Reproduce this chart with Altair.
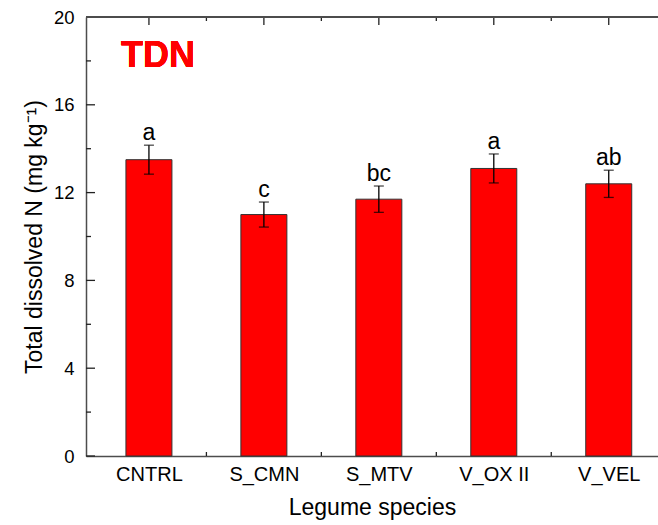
import json
import altair as alt
import pandas as pd

# Total dissolved N by legume species
species = ["CNTRL", "S_CMN", "S_MTV", "V_OX II", "V_VEL"]
tdn_mean = [13.5, 11.0, 11.7, 13.1, 12.4]
tdn_se = [0.66, 0.57, 0.60, 0.66, 0.62]
letters = ["a", "c", "bc", "a", "ab"]

y_major = [0, 4, 8, 12, 16, 20]
y_minor = [2, 6, 10, 14, 18]
x_bounds = [0.5, 1.5, 2.5, 3.5]

FONT = "Liberation Sans"
W, H = 572, 439

df = pd.DataFrame({
    "pos": list(range(len(species))),
    "species": species,
    "mean": tdn_mean,
    "se": tdn_se,
    "letter": letters,
})
df["lo"] = df["mean"] - df["se"]
df["hi"] = df["mean"] + df["se"]

label_expr = json.dumps(species) + "[datum.value]"

x_scale = alt.Scale(domain=[-0.504, 4.385], nice=False, zero=False)
y_scale = alt.Scale(domain=[0, 20], nice=False)

x_axis = alt.Axis(
    values=list(range(len(species))), labelExpr=label_expr, ticks=False,
    grid=False, domainColor="#4d4d4d", domainWidth=1.5,
    labelFont=FONT, labelFontSize=20, labelColor="black", labelPadding=8,
    title="Legume species", titleFont=FONT, titleFontSize=23,
    titleFontWeight="normal", titleColor="black", titlePadding=12,
)
y_axis = alt.Axis(
    values=y_major, ticks=False, grid=False,
    domainColor="#4d4d4d", domainWidth=1.5,
    labelFont=FONT, labelFontSize=18.5, labelColor="black", labelPadding=12,
    title="Total dissolved N (mg kg⁻¹)", titleFont=FONT, titleFontSize=23,
    titleFontWeight="normal", titleColor="black", titlePadding=7,
)

base = alt.Chart(df)

bars = base.mark_bar(size=46, color="#ff0000", stroke="#333333", strokeWidth=1).encode(
    x=alt.X("pos:Q", scale=x_scale, axis=x_axis),
    y=alt.Y("mean:Q", scale=y_scale, axis=y_axis),
)

err_line = base.mark_rule(color="black", strokeWidth=1.3).encode(
    x="pos:Q", y="lo:Q", y2="hi:Q"
)
err_hi = base.mark_tick(orient="horizontal", size=10, thickness=1.3, color="black").encode(
    x="pos:Q", y="hi:Q"
)
err_lo = base.mark_tick(orient="horizontal", size=10, thickness=1.3, color="black").encode(
    x="pos:Q", y="lo:Q"
)

sig = base.mark_text(font=FONT, fontSize=23, baseline="alphabetic", dy=-5, color="black").encode(
    x="pos:Q", y="hi:Q", text="letter:N"
)

tick_color = "#222222"
left_major = alt.Chart(pd.DataFrame({"v": y_major})).mark_rule(color=tick_color, strokeWidth=1.3).encode(
    y="v:Q", x=alt.value(0), x2=alt.value(9)
)
left_minor = alt.Chart(pd.DataFrame({"v": y_minor})).mark_rule(color=tick_color, strokeWidth=1.3).encode(
    y="v:Q", x=alt.value(0), x2=alt.value(5)
)
top_major = alt.Chart(df).mark_rule(color=tick_color, strokeWidth=1.3).encode(
    x="pos:Q", y=alt.value(0), y2=alt.value(8)
)
top_minor = alt.Chart(pd.DataFrame({"b": x_bounds})).mark_rule(color=tick_color, strokeWidth=1.3).encode(
    x="b:Q", y=alt.value(0), y2=alt.value(4)
)
bottom_minor = alt.Chart(pd.DataFrame({"b": x_bounds})).mark_rule(color=tick_color, strokeWidth=1.3).encode(
    x="b:Q", y=alt.value(H), y2=alt.value(H - 4)
)
top_line = alt.Chart(df).mark_rule(color="#4d4d4d", strokeWidth=1.5).encode(
    y=alt.datum(20), x=alt.value(0), x2=alt.value(W + 40)
)

panel_label = alt.Chart(df).mark_text(
    text="TDN", font=FONT, fontSize=36, fontWeight="bold", color="#ff0000",
    align="left", baseline="alphabetic",
).encode(x=alt.value(35), y=alt.value(50))

chart = alt.layer(
    left_major, left_minor, top_major, top_minor, bottom_minor,
    bars, err_line, err_hi, err_lo, sig, top_line, panel_label,
).properties(
    width=W, height=H,
    autosize=alt.AutoSizeParams(type="none"),
    padding={"left": 86, "top": 17, "right": 0, "bottom": 69},
    background="white",
).configure_view(stroke=None)

chart.save("out.html", embed_options={"renderer": "svg", "actions": False})
